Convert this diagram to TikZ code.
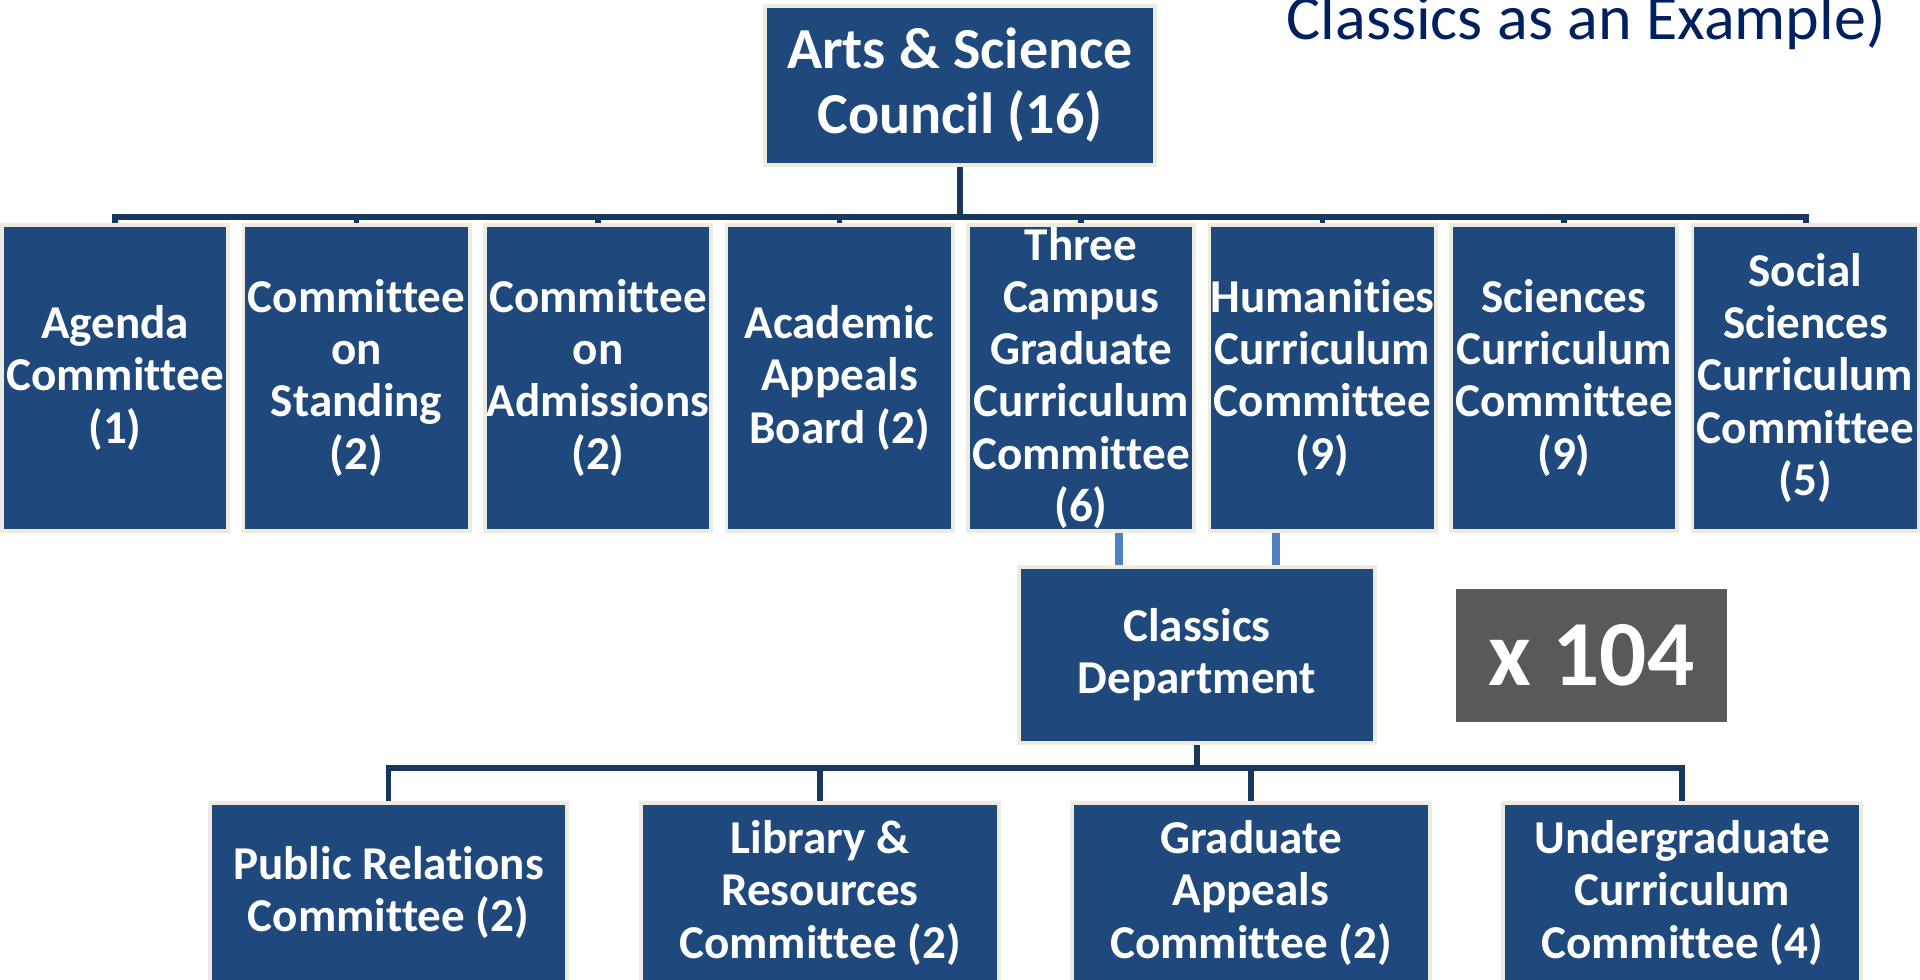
\documentclass[tikz,border=0pt]{standalone}
\usepackage{fontspec}
\setmainfont{Carlito}[Ligatures=NoCommon]
\usetikzlibrary{positioning}

\definecolor{boxblue}{HTML}{1F497D}
\definecolor{boxrim}{HTML}{EEECE1}
\definecolor{linkdark}{HTML}{17375E}
\definecolor{linklight}{HTML}{4F81BD}
\definecolor{titlenavy}{HTML}{002060}
\definecolor{tally}{HTML}{595959}

\begin{document}
\begin{tikzpicture}[x=0.01cm,y=-0.01cm,
		box/.style={draw=boxrim,line width=1.1pt,fill=boxblue,text=white,align=center,inner sep=0pt,
			font=\bfseries\fontsize{13.4}{14.8}\selectfont},
		unit/.style={box,minimum width=2.26cm,minimum height=3.06cm},
		sub/.style={box,minimum width=3.57cm,minimum height=1.8cm},
		link/.style={draw=linkdark,line width=1.7pt},
		sublink/.style={draw=linklight,line width=2.4pt}]
		\useasboundingbox (0,0) rectangle (1920,980);

		\node[anchor=base east,text=titlenavy,font=\fontsize{18.2}{20}\selectfont]
			(title) at (1898,40) {Classics as an Example)};

		\node[box,minimum width=3.9cm,minimum height=1.59cm,font=\bfseries\fontsize{16.5}{18.5}\selectfont]
			(asc) at (960,85.5) {Arts \& Science\\Council (16)};

		\node[unit] (agenda)		at (115,378)	{Agenda\\Committee\\(1)};
		\node[unit] (standing)		at (356.5,378)	{Committee\\on\\Standing\\(2)};
		\node[unit] (admissions)	at (598,378)	{Committee\\on\\Admissions\\(2)};
		\node[unit] (appeals)		at (839.5,378)	{Academic\\Appeals\\Board (2)};
		\node[unit] (tcgcc)			at (1081,378)	{Three\\Campus\\Graduate\\Curriculum\\Committee\\(6)};
		\node[unit] (hum)			at (1322.5,378)	{Humanities\\Curriculum\\Committee\\(9)};
		\node[unit] (sci)			at (1564,378)	{Sciences\\Curriculum\\Committee\\(9)};
		\node[unit] (soc)			at (1805.5,378)	{Social\\Sciences\\Curriculum\\Committee\\(5)};

		\node[box,minimum width=3.56cm,minimum height=1.76cm]
			(classics) at (1197,655) {Classics\\Department};
		\node[fill=tally,text=white,inner sep=0pt,minimum width=2.71cm,minimum height=1.33cm,
			font=\bfseries\fontsize{26.5}{30}\selectfont] (times) at (1591.5,655.5) {x 104};

		\node[sub] (pr)		at (388.5,893)	{Public Relations\\Committee (2)};
		\node[sub] (lib)	at (820,893)	{Library \&\\Resources\\Committee (2)};
		\node[sub] (grad)	at (1251,893)	{Graduate\\Appeals\\Committee (2)};
		\node[sub] (ugrad)	at (1682,893)	{Undergraduate\\Curriculum\\Committee (4)};

		\draw[link] (asc.south) -- (asc.south |- 0,217) -| (agenda.north);
		\draw[link] (asc.south) -- (asc.south |- 0,217) -| (standing.north);
		\draw[link] (asc.south) -- (asc.south |- 0,217) -| (admissions.north);
		\draw[link] (asc.south) -- (asc.south |- 0,217) -| (appeals.north);
		\draw[link] (asc.south) -- (asc.south |- 0,217) -| (tcgcc.north);
		\draw[link] (asc.south) -- (asc.south |- 0,217) -| (hum.north);
		\draw[link] (asc.south) -- (asc.south |- 0,217) -| (sci.north);
		\draw[link] (asc.south) -- (asc.south |- 0,217) -| (soc.north);

		\draw[sublink] ([xshift=0.38cm]tcgcc.south) -- ([xshift=0.38cm]tcgcc.south |- classics.north);
		\draw[sublink] ([xshift=-0.465cm]hum.south) -- ([xshift=-0.465cm]hum.south |- classics.north);

		\draw[link] (classics.south) -- (classics.south |- 0,768) -| (pr.north);
		\draw[link] (classics.south) -- (classics.south |- 0,768) -| (lib.north);
		\draw[link] (classics.south) -- (classics.south |- 0,768) -| (grad.north);
		\draw[link] (classics.south) -- (classics.south |- 0,768) -| (ugrad.north);
	\end{tikzpicture}
\end{document}
